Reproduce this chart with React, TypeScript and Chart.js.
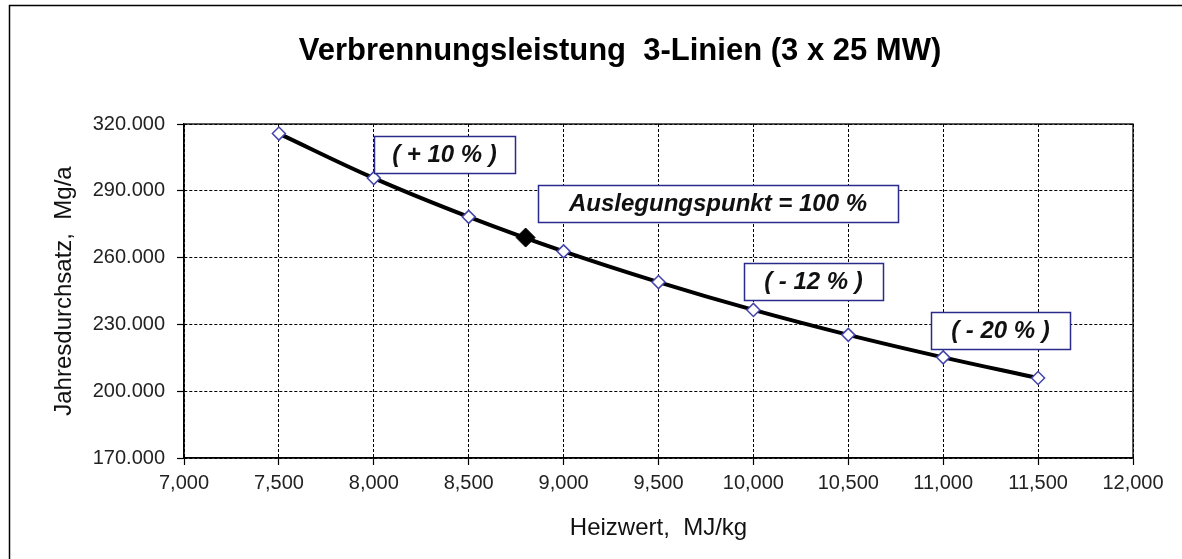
import React, { useEffect, useRef } from 'react';
import { Chart, registerables } from 'chart.js';

Chart.register(...registerables);

// ---- data ----
const heizwert = [7500, 8000, 8500, 9000, 9500, 10000, 10500, 11000, 11500];
const durchsatz = [315700, 295700, 278300, 262800, 249000, 236500, 225300, 215200, 205900];
const designHeizwert = [8800];
const designDurchsatz = [269000];

const xMin = 7000;
const xMax = 12000;
const xStep = 500;
const yMin = 170000;
const yMax = 320000;
const yStep = 30000;

const titleText = 'Verbrennungsleistung  3-Linien (3 x 25 MW)';
const xTitle = 'Heizwert,  MJ/kg';
const yTitle = 'Jahresdurchsatz,  Mg/a';

const annotationTexts = ['( + 10 % )', 'Auslegungspunkt = 100 %', '( - 12 % )', '( - 20 % )'];
// anchors (top-left corner) in data units
const annotationX = [8000, 8863, 9950, 10935];
const annotationY = [314630, 292690, 257630, 235510];

const FONT = '"Liberation Sans", Arial, Helvetica, sans-serif';
const annotationW = [141, 360, 139, 139];
const annotationH = 37;

function groupDigits(v: number, sep: string): string {
  return String(Math.round(v)).replace(/\B(?=(\d{3})+(?!\d))/g, sep);
}

const framePlugin = {
  id: 'frames',
  beforeDatasetsDraw(chart: any) {
    const { ctx, chartArea } = chart;
    ctx.save();
    ctx.strokeStyle = '#000';
    ctx.lineWidth = 1.3;
    ctx.setLineDash([]);
    ctx.strokeRect(chartArea.left, chartArea.top, chartArea.right - chartArea.left, chartArea.bottom - chartArea.top);
    ctx.restore();
  },
  afterDraw(chart: any) {
    const { ctx, scales } = chart;
    const x = scales.x;
    const y = scales.y;
    ctx.save();
    annotationTexts.forEach((t, i) => {
      const left = Math.round(x.getPixelForValue(annotationX[i]));
      const top = Math.round(y.getPixelForValue(annotationY[i]));
      const w = annotationW[i];
      const h = annotationH;
      ctx.fillStyle = '#ffffff';
      ctx.fillRect(left, top, w, h);
      ctx.strokeStyle = '#2a2a8c';
      ctx.lineWidth = 1.5;
      ctx.strokeRect(left + 0.5, top + 0.5, w, h);
      ctx.fillStyle = '#111';
      ctx.font = `italic bold 24px ${FONT}`;
      ctx.textAlign = 'center';
      ctx.textBaseline = 'middle';
      ctx.fillText(t, left + w / 2, top + h / 2 + 1);
    });
    ctx.strokeStyle = '#000';
    ctx.lineWidth = 1.5;
    ctx.strokeRect(9.5, 5.5, 1200, 600);
    ctx.restore();
  },
};

export default function App() {
  const canvasRef = useRef<HTMLCanvasElement | null>(null);

  useEffect(() => {
    if (!canvasRef.current) return;
    const lineData = heizwert.map((v, i) => ({ x: v, y: durchsatz[i] }));
    const designData = designHeizwert.map((v, i) => ({ x: v, y: designDurchsatz[i] }));

    const chart = new Chart(canvasRef.current, {
      type: 'line',
      data: {
        datasets: [
          {
            label: 'Auslegungspunkt',
            data: designData,
            showLine: false,
            pointStyle: 'rectRot',
            pointRadius: 9.5,
            pointBackgroundColor: '#000',
            pointBorderColor: '#000',
            pointBorderWidth: 1,
            order: 0,
          },
          {
            label: 'Jahresdurchsatz',
            data: lineData,
            borderColor: '#000',
            borderWidth: 4,
            tension: 0.4,
            fill: false,
            pointStyle: 'rectRot',
            pointRadius: 6.5,
            pointBackgroundColor: '#fff',
            pointBorderColor: '#4444aa',
            pointBorderWidth: 1.5,
            order: 1,
          },
        ],
      },
      options: {
        animation: false,
        responsive: false,
        devicePixelRatio: 1,
        layout: { padding: { left: 58, right: 0, top: 0, bottom: 0 } },
        plugins: {
          legend: { display: false },
          tooltip: { enabled: false },
          title: {
            display: true,
            text: titleText,
            color: '#000',
            font: { family: FONT, size: 31, weight: 'bold', lineHeight: 1.2 },
            padding: { top: 33, bottom: 53.8 },
          },
        },
        scales: {
          x: {
            type: 'linear',
            position: 'bottom',
            min: xMin,
            max: xMax,
            afterFit: (s: any) => {
              s.height = 101;
            },
            ticks: {
              stepSize: xStep,
              color: '#222',
              padding: 6,
              font: { family: FONT, size: 20 },
              callback: (v: any) => groupDigits(Number(v), ','),
            },
            grid: {
              color: '#000',
              lineWidth: 1,
              tickLength: 7,
              tickColor: '#000',
              tickWidth: 1.2,
            },
            border: { display: true, color: '#000', width: 1.3, dash: [3, 2] },
            title: {
              display: true,
              text: xTitle,
              color: '#111',
              font: { family: FONT, size: 24, lineHeight: 1.2 },
              padding: { top: 0, bottom: 16.6 },
            },
          },
          y: {
            type: 'linear',
            position: 'left',
            min: yMin,
            max: yMax,
            afterFit: (s: any) => {
              s.width = 126;
            },
            ticks: {
              stepSize: yStep,
              color: '#222',
              padding: 12,
              font: { family: FONT, size: 20 },
              callback: (v: any) => groupDigits(Number(v), '.'),
            },
            grid: {
              color: '#000',
              lineWidth: 1,
              tickLength: 7,
              tickColor: '#000',
              tickWidth: 1.2,
            },
            border: { display: true, color: '#000', width: 1.3, dash: [3, 2] },
            title: {
              display: true,
              text: yTitle,
              color: '#111',
              font: { family: FONT, size: 24, lineHeight: 0.5 },
              padding: { top: 0, bottom: 0 },
            },
          },
          yR: {
            type: 'linear',
            position: 'right',
            display: true,
            afterFit: (s: any) => {
              s.width = 49;
            },
            ticks: { display: false },
            grid: { display: false, drawTicks: false },
            border: { display: false },
          },
        },
      },
      plugins: [framePlugin],
    } as any);

    return () => {
      chart.destroy();
    };
  }, []);

  return (
    <div style={{ position: 'absolute', left: 0, top: 0, width: 1182, height: 559, background: '#fff' }}>
      <canvas ref={canvasRef} width={1182} height={559} style={{ display: 'block' }} />
    </div>
  );
}
